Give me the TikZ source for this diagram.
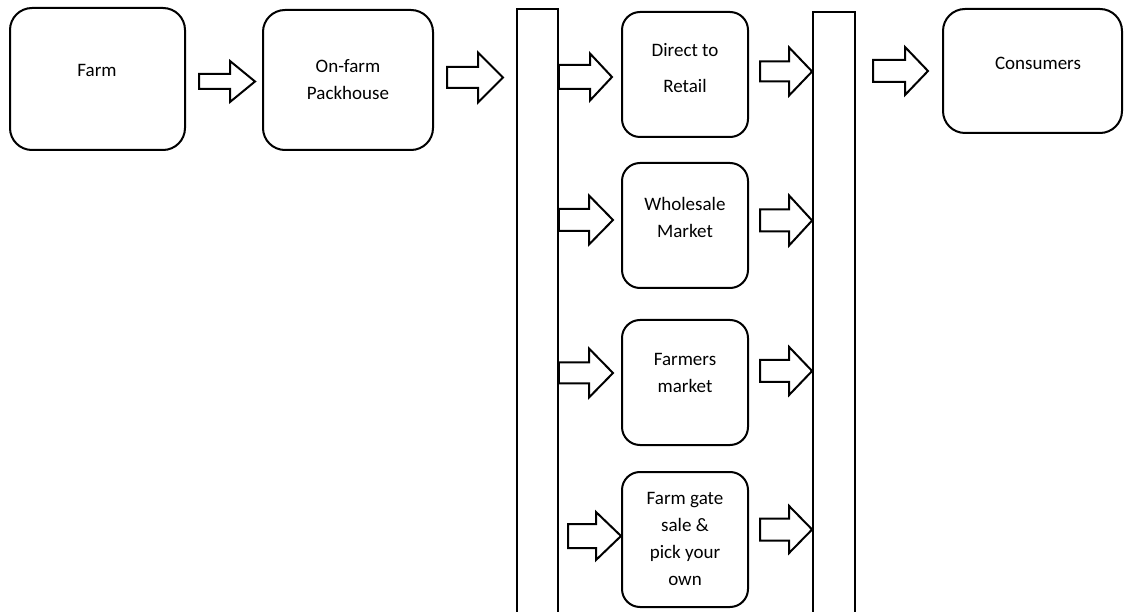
\documentclass[tikz,border=0pt]{standalone}
\usepackage{fontspec}
\setmainfont{Carlito}
\usetikzlibrary{calc}
\tikzset{
  box/.style={draw=black, line width=2pt, rounded corners=18pt, fill=white, inner sep=0pt},
  bigbox/.style={box, rounded corners=22pt},
  barbox/.style={draw=black, line width=1.8pt, fill=white, inner sep=0pt},
  lbl/.style={align=center, font=\fontsize{19}{27}\selectfont, inner sep=0pt, text=black},
  arr/.style={draw=black, line width=2pt, fill=white, line join=miter},
}
\newcommand\blockarrow[5]{%
  \draw[arr] let \p1=(#1), \p2=(#2) in
    ({\x1},{\y2+#3pt}) -- ({\x2-#5pt},{\y2+#3pt}) -- ({\x2-#5pt},{\y2+#4pt}) --
    ({\x2},{\y2}) -- ({\x2-#5pt},{\y2-#4pt}) -- ({\x2-#5pt},{\y2-#3pt}) --
    ({\x1},{\y2-#3pt}) -- cycle;}
\begin{document}
\begin{tikzpicture}[x=1pt,y=-1pt]
\useasboundingbox (0,0) rectangle (1125,612);
\clip (0,0) rectangle (1125,612);
\fill[white] (0,0) rectangle (1125,612);
% boxes
\node[bigbox, minimum width=175pt, minimum height=142pt] (farm) at (97.5,79) {};
\node[bigbox, minimum width=170pt, minimum height=140pt] (pack) at (348,80) {};
\node[barbox, minimum width=41pt, minimum height=611pt] (bar1) at (537.5,314.5) {};
\node[box, minimum width=126pt, minimum height=125pt] (dr) at (685,74.5) {};
\node[box, minimum width=126pt, minimum height=125pt] (wm) at (685,225.5) {};
\node[box, minimum width=126pt, minimum height=125pt] (fm) at (685,382.5) {};
\node[box, minimum width=126pt, minimum height=135pt] (fg) at (685,539.5) {};
\node[barbox, minimum width=42pt, minimum height=608pt] (bar2) at (834,316) {};
\node[bigbox, minimum width=179pt, minimum height=124pt] (cons) at (1032.5,71) {};
% arrow end points
\coordinate (a1s) at (199,81.5);   \coordinate (a1t) at (255,81.5);
\coordinate (a2s) at (447,77.5);   \coordinate (a2t) at (503,77.5);
\coordinate (a3s) at (bar1.east |- 0,77);  \coordinate (a3t) at (612,77);
\coordinate (a4s) at (760,71.5);   \coordinate (a4t) at (bar2.west |- 0,71.5);
\coordinate (a5s) at (873,71);     \coordinate (a5t) at (928,71);
\coordinate (b1s) at (bar1.east |- 0,220);  \coordinate (b1t) at (613,220);
\coordinate (b2s) at (760,220.5);  \coordinate (b2t) at (bar2.west |- 0,220.5);
\coordinate (c1s) at (bar1.east |- 0,373);  \coordinate (c1t) at (613,373);
\coordinate (c2s) at (760,371);    \coordinate (c2t) at (bar2.west |- 0,371);
\coordinate (d1s) at (568,536);    \coordinate (d1t) at (fg.west |- 0,536);
\coordinate (d2s) at (760,529.5);  \coordinate (d2t) at (bar2.west |- 0,529.5);
% arrows
\blockarrow{a1s}{a1t}{7.5}{20.5}{25}
\blockarrow{a2s}{a2t}{10.5}{25}{25}
\blockarrow{a3s}{a3t}{12}{23.5}{22}
\blockarrow{a4s}{a4t}{10}{24}{23}
\blockarrow{a5s}{a5t}{11}{24}{23}
\blockarrow{b1s}{b1t}{11}{24.5}{24}
\blockarrow{b2s}{b2t}{11}{25}{23}
\blockarrow{c1s}{c1t}{10.5}{24.5}{24}
\blockarrow{c2s}{c2t}{11}{24}{23}
\blockarrow{d1s}{d1t}{12}{24}{25}
\blockarrow{d2s}{d2t}{11}{23.5}{23}
% labels
\node[lbl] (farmT) at (97,70) {Farm};
\node[lbl] (packT) at (348,80) {On-farm\\Packhouse};
\node[lbl, font=\fontsize{19}{36}\selectfont] (drT) at (685,68) {Direct to\\Retail};
\node[lbl] (wmT) at (685,217) {Wholesale\\Market};
\node[lbl] (fmT) at (685,373) {Farmers\\market};
\node[lbl, font=\fontsize{19}{26.7}\selectfont] (fgT) at (685,539) {Farm gate\\sale \&\\pick your\\own};
\node[lbl] (consT) at (1038,63) {Consumers};
\end{tikzpicture}
\end{document}
